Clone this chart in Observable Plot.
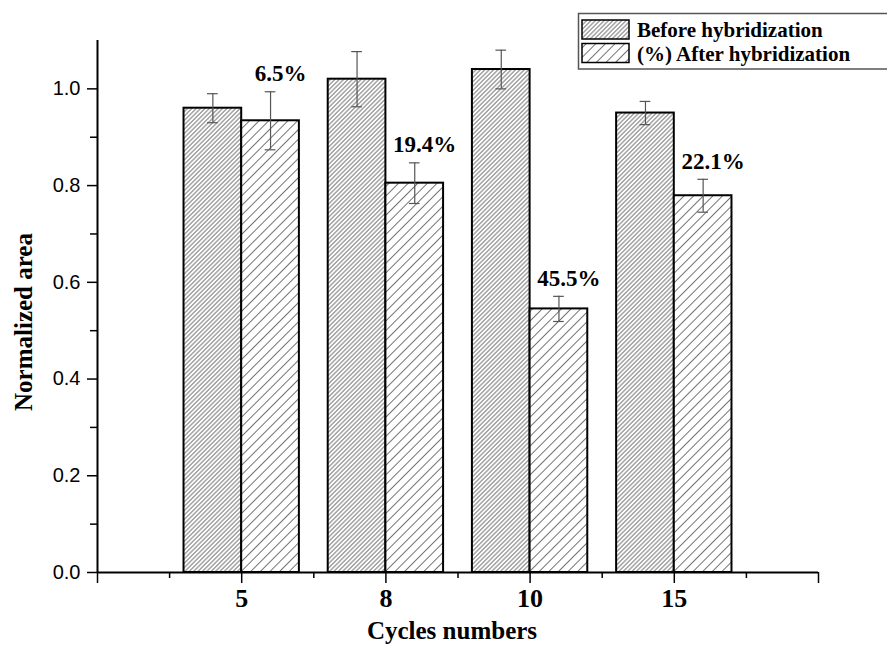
<!DOCTYPE html>
<html><head><meta charset="utf-8">
<script src="https://cdn.jsdelivr.net/npm/d3@7"></script>
<script src="https://cdn.jsdelivr.net/npm/@observablehq/plot@0.6"></script>
<style>body{margin:0;background:#fff;}</style>
</head><body><div id="chart"></div>
<script>
const cycles = ["5", "8", "10", "15"];
const beforeValues = [0.96, 1.02, 1.04, 0.95];
const beforeErrors = [0.03, 0.057, 0.04, 0.024];
const afterValues = [0.934, 0.805, 0.545, 0.779];
const afterErrors = [0.06, 0.042, 0.026, 0.034];
const decreaseLabels = ["6.5%", "19.4%", "45.5%", "22.1%"];
const yMajorTicks = [0, 0.2, 0.4, 0.6, 0.8, 1.0];
const yMinorTicks = [0.1, 0.3, 0.5, 0.7, 0.9];
const seriesNames = ["Before hybridization", "(%) After hybridization"];
const xAxisTitle = "Cycles numbers";
const yAxisTitle = "Normalized area";

const BAR = 0.4, CAP = 0.037;
const SERIF = "'Liberation Serif', 'Times New Roman', serif";
const SANS = "'Liberation Sans', Arial, sans-serif";
const rows = cycles.map((c, i) => ({
  cycle: c, pos: i + 1,
  before: beforeValues[i], beforeErr: beforeErrors[i],
  after: afterValues[i], afterErr: afterErrors[i],
  label: decreaseLabels[i]
}));
const xMajor = d3.range(0, cycles.length + 2);
const xMinor = xMajor.slice(0, -1).map(v => v + 0.5);
const tickLabel = v => (v >= 1 && v <= cycles.length) ? cycles[v - 1] : "";
const errColor = "#555";

const W = 887, H = 646, ML = 97, MR = 69, MT = 40, MB = 74;

const plot = Plot.plot({
  width: W, height: H,
  marginLeft: ML, marginRight: MR, marginTop: MT, marginBottom: MB,
  style: {fontFamily: SERIF, background: "white", color: "black", overflow: "hidden"},
  x: {type: "linear", domain: [0, cycles.length + 1]},
  y: {domain: [0, 1.1]},
  marks: [
    Plot.rect(rows, {x1: d => d.pos - BAR, x2: d => d.pos, y1: 0, y2: "before", fill: "url(#hatchDense)", stroke: "black", strokeWidth: 2}),
    Plot.rect(rows, {x1: d => d.pos, x2: d => d.pos + BAR, y1: 0, y2: "after", fill: "url(#hatchSparse)", stroke: "black", strokeWidth: 2}),
    Plot.ruleX(rows, {x: d => d.pos - BAR / 2, y1: d => d.before - d.beforeErr, y2: d => d.before + d.beforeErr, stroke: errColor, strokeWidth: 1.2}),
    Plot.ruleY(rows, {y: d => d.before + d.beforeErr, x1: d => d.pos - BAR / 2 - CAP, x2: d => d.pos - BAR / 2 + CAP, stroke: errColor, strokeWidth: 1.2}),
    Plot.ruleY(rows, {y: d => d.before - d.beforeErr, x1: d => d.pos - BAR / 2 - CAP, x2: d => d.pos - BAR / 2 + CAP, stroke: errColor, strokeWidth: 1.2}),
    Plot.ruleX(rows, {x: d => d.pos + BAR / 2, y1: d => d.after - d.afterErr, y2: d => d.after + d.afterErr, stroke: errColor, strokeWidth: 1.2}),
    Plot.ruleY(rows, {y: d => d.after + d.afterErr, x1: d => d.pos + BAR / 2 - CAP, x2: d => d.pos + BAR / 2 + CAP, stroke: errColor, strokeWidth: 1.2}),
    Plot.ruleY(rows, {y: d => d.after - d.afterErr, x1: d => d.pos + BAR / 2 - CAP, x2: d => d.pos + BAR / 2 + CAP, stroke: errColor, strokeWidth: 1.2}),
    Plot.text(rows, {x: d => d.pos + BAR / 2, y: d => d.after + d.afterErr, text: "label", dx: 10, dy: -18, fontFamily: SERIF, fontWeight: "bold", fontSize: 23, fill: "black"}),
    Plot.axisY(yMinorTicks, {tickSize: 7, tickFormat: () => "", label: null, strokeWidth: 1.5}),
    Plot.axisY(yMajorTicks, {tickSize: 10, tickPadding: 7, tickFormat: d3.format(".1f"), label: null, fontFamily: SANS, fontSize: 20, strokeWidth: 1.5}),
    Plot.axisX(xMinor, {tickSize: 6, tickFormat: () => "", label: null, strokeWidth: 1.5}),
    Plot.axisX(xMajor, {tickSize: 11, tickPadding: 5, tickFormat: tickLabel, label: null, fontFamily: SERIF, fontWeight: "bold", fontSize: 26, strokeWidth: 1.5}),
    Plot.ruleX([0], {stroke: "black", strokeWidth: 2}),
    Plot.ruleY([0], {stroke: "black", strokeWidth: 2})
  ]
});

const svg = d3.select(plot);
const defs = svg.insert("defs", ":first-child");
function hatch(id, spacing) {
  const p = defs.append("pattern").attr("id", id)
    .attr("patternUnits", "userSpaceOnUse")
    .attr("width", spacing).attr("height", spacing)
    .attr("patternTransform", "rotate(45)");
  p.append("rect").attr("width", spacing).attr("height", spacing).attr("fill", "white");
  p.append("line").attr("x1", spacing / 2).attr("y1", 0).attr("x2", spacing / 2).attr("y2", spacing)
    .attr("stroke", "#666").attr("stroke-width", 0.9);
}
hatch("hatchDense", 3.1);
hatch("hatchSparse", 6.8);

svg.append("text").attr("x", 452).attr("y", 639).attr("text-anchor", "middle")
  .attr("font-family", SERIF).attr("font-weight", "bold").attr("font-size", 25).text(xAxisTitle);
svg.append("text").attr("transform", "translate(32,322) rotate(-90)").attr("text-anchor", "middle")
  .attr("font-family", SERIF).attr("font-weight", "bold").attr("font-size", 25).text(yAxisTitle);

const lg = svg.append("g");
lg.append("rect").attr("x", 578.5).attr("y", 13.5).attr("width", 400).attr("height", 55.5)
  .attr("fill", "white").attr("stroke", "#555").attr("stroke-width", 1.5);
const fills = ["url(#hatchDense)", "url(#hatchSparse)"];
seriesNames.forEach((name, i) => {
  lg.append("rect").attr("x", 582).attr("y", 20 + i * 23.5).attr("width", 47).attr("height", 19)
    .attr("fill", fills[i]).attr("stroke", "black").attr("stroke-width", 1.5);
  lg.append("text").attr("x", 637).attr("y", 37 + i * 23.5).attr("text-anchor", "start")
    .attr("font-family", SERIF).attr("font-weight", "bold").attr("font-size", 21).text(name);
});

document.getElementById("chart").appendChild(plot);
</script>
</body></html>
